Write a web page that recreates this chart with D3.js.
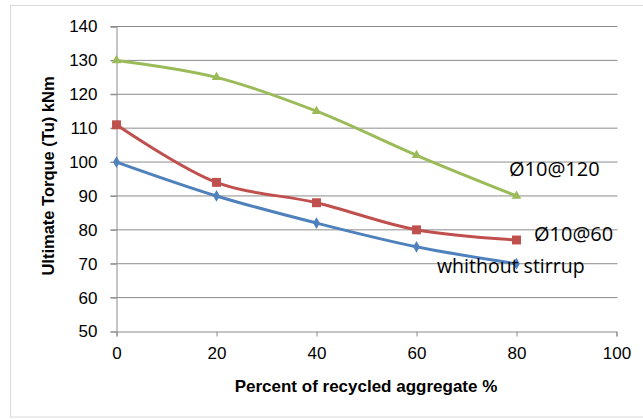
<!DOCTYPE html>
<html><head><meta charset="utf-8">
<script src="https://cdn.jsdelivr.net/npm/d3@7"></script>
<style>body{margin:0;background:#fff;}svg{display:block;}</style>
</head><body>
<svg id="c" width="643" height="419"></svg>
<script>
const xValues = [0, 20, 40, 60, 80];
const seriesNames = ["Ø10@120", "Ø10@60", "whithout stirrup"];
const green120 = [130, 125, 115, 102, 90];
const red60 = [111, 94, 88, 80, 77];
const blueNone = [100, 90, 82, 75, 70];
const xTicks = [0, 20, 40, 60, 80, 100];
const yTicks = [50, 60, 70, 80, 90, 100, 110, 120, 130, 140];

const svg = d3.select("#c");
const font = "'Liberation Sans', Arial, sans-serif";
const font2 = "'Open Sans', 'Liberation Sans', sans-serif";
// outer frame
svg.append("rect").attr("x", 10.5).attr("y", 5.5).attr("width", 640).attr("height", 411.5)
  .attr("fill", "none").attr("stroke", "#d9d9d9").attr("stroke-width", 1);

const x = d3.scaleLinear().domain([0, 100]).range([116.5, 616.5]);
const y = d3.scaleLinear().domain([50, 140]).range([331.5, 26.5]);

// gridlines
svg.append("g").selectAll("line").data(yTicks.filter(d => d > 50)).join("line")
  .attr("x1", x(0) - 6).attr("x2", x(100) + 1)
  .attr("y1", d => y(d)).attr("y2", d => y(d))
  .attr("stroke", "#8c8c8c").attr("stroke-width", 1);

// y axis
const yAxis = svg.append("g").attr("transform", `translate(${x(0)},0)`)
  .call(d3.axisLeft(y).tickValues(yTicks).tickSize(6).tickPadding(13));
yAxis.select(".domain").attr("stroke", "#8c8c8c");
yAxis.selectAll(".tick line").attr("stroke", "#8c8c8c");
yAxis.selectAll("text").attr("font-family", font).attr("font-size", 17).attr("fill", "#000");

// x axis
const xAxis = svg.append("g").attr("transform", `translate(0,${y(50)})`)
  .call(d3.axisBottom(x).tickValues(xTicks).tickSize(5).tickPadding(10));
xAxis.select(".domain").attr("stroke", "#8c8c8c");
xAxis.selectAll(".tick line").attr("stroke", "#8c8c8c");
xAxis.selectAll("text").attr("font-family", font).attr("font-size", 17).attr("fill", "#000");

// titles
svg.append("text").attr("x", 366).attr("y", 392).attr("text-anchor", "middle")
  .attr("font-family", font).attr("font-size", 17).attr("font-weight", "bold")
  .text("Percent of recycled aggregate %");
svg.append("text").attr("transform", `translate(54,176) rotate(-90)`).attr("text-anchor", "middle")
  .attr("font-family", font).attr("font-size", 16.5).attr("font-weight", "bold")
  .text("Ultimate Torque (Tu) kNm");

const line = d3.line().x((d, i) => x(xValues[i])).y(d => y(d)).curve(d3.curveCatmullRom.alpha(0.5));

const series = [
  { vals: green120, color: "#9BBB59", marker: "triangle" },
  { vals: red60, color: "#C0504D", marker: "square" },
  { vals: blueNone, color: "#4F81BD", marker: "diamond" }
];
series.forEach(s => {
  svg.append("path").attr("d", line(s.vals)).attr("fill", "none")
    .attr("stroke", s.color).attr("stroke-width", 3);
  const sym = s.marker === "triangle" ? d3.symbolTriangle : s.marker === "square" ? d3.symbolSquare : d3.symbolDiamond;
  const size = s.marker === "square" ? 80 : 40;
  svg.append("g").selectAll("path").data(s.vals).join("path")
    .attr("transform", (d, i) => `translate(${x(xValues[i])},${y(d)})`)
    .attr("d", d3.symbol(sym, size)).attr("fill", s.color);
});

// labels
svg.append("text").attr("x", 509).attr("y", 176).attr("font-family", font2).attr("font-size", 20).text(seriesNames[0]);
svg.append("text").attr("x", 534).attr("y", 241).attr("font-family", font2).attr("font-size", 20).text(seriesNames[1]);
svg.append("text").attr("x", 437).attr("y", 273).attr("font-family", font2).attr("font-size", 19.5).text(seriesNames[2]);
</script>
</body></html>
